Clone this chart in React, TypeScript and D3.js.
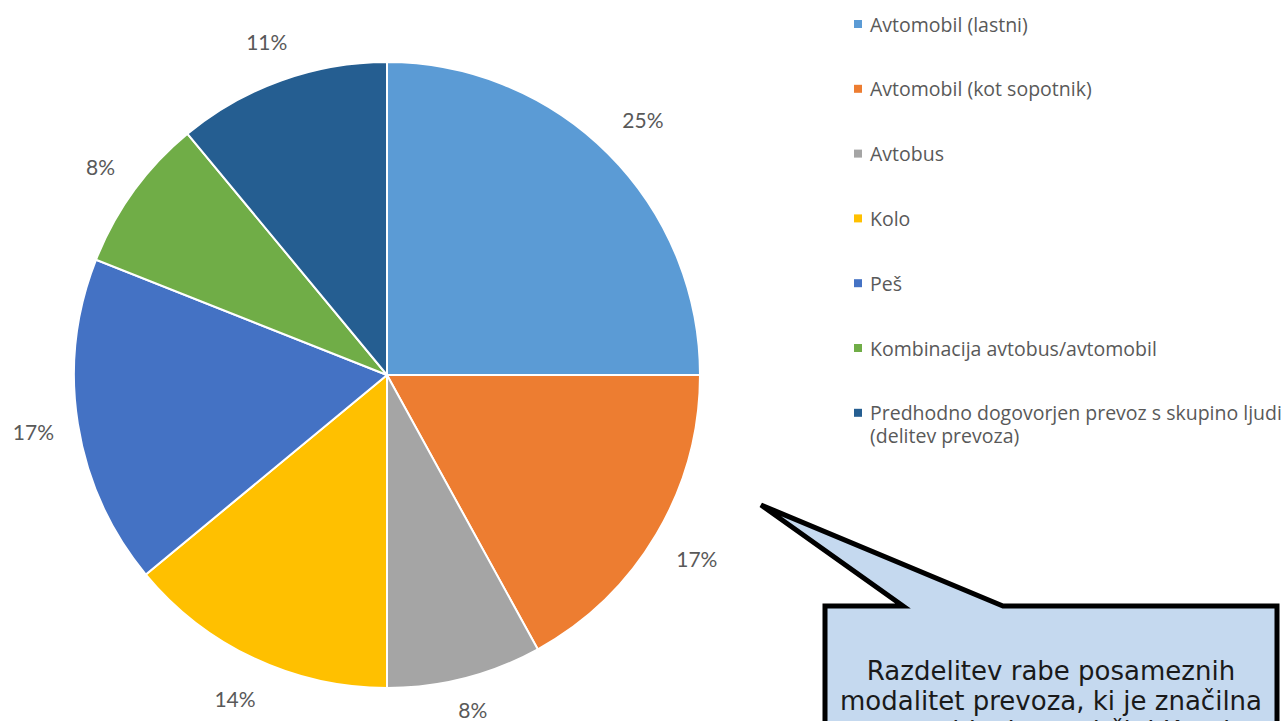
import React from "react";
import * as d3 from "d3";

const categories = [
  "Avtomobil (lastni)",
  "Avtomobil (kot sopotnik)",
  "Avtobus",
  "Kolo",
  "Peš",
  "Kombinacija avtobus/avtomobil",
  "Predhodno dogovorjen prevoz s skupino ljudi (delitev prevoza)",
];
const values = [25, 17, 8, 14, 17, 8, 11];
const colors = ["#5B9BD5", "#ED7D31", "#A5A5A5", "#FFC000", "#4472C4", "#70AD47", "#255E91"];
const legendLines = [
  ["Avtomobil (lastni)"],
  ["Avtomobil (kot sopotnik)"],
  ["Avtobus"],
  ["Kolo"],
  ["Peš"],
  ["Kombinacija avtobus/avtomobil"],
  ["Predhodno dogovorjen prevoz s skupino ljudi", "(delitev prevoza)"],
];
const labelRadii = [362, 360, 345, 357, 358, 354, 355];
const calloutLines = [
  "Razdelitev rabe posameznih",
  "modalitet prevoza, ki je značilna",
  "za prebivalce v občini Kranj",
];

const W = 1283;
const H = 721;
const cx = 387;
const cy = 375;
const R = 313;

export default function App() {
  const pie = d3.pie<number>().sort(null).value((d) => d);
  const arcs = pie(values);
  const arcGen = d3.arc<d3.PieArcDatum<number>>().innerRadius(0).outerRadius(R);
  const total = d3.sum(values);

  const legendX = 854;
  const legendY0 = 24;
  const legendStep = 64.8;

  const callout = d3.path();
  callout.moveTo(825, 606);
  callout.lineTo(903, 606);
  callout.lineTo(761, 505);
  callout.lineTo(1003, 606);
  callout.lineTo(1277, 606);
  callout.lineTo(1277, 740);
  callout.lineTo(825, 740);
  callout.closePath();

  return (
    <svg
      width={W}
      height={H}
      style={{ position: "absolute", left: 0, top: 0, background: "#fff" }}
    >
      <g transform={`translate(${cx},${cy})`}>
        {arcs.map((a, i) => (
          <path key={i} d={arcGen(a) || ""} fill={colors[i]} stroke="#fff" strokeWidth={2} />
        ))}
        {arcs.map((a, i) => {
          const mid = (a.startAngle + a.endAngle) / 2;
          const r = labelRadii[i];
          const x = Math.sin(mid) * r;
          const y = -Math.cos(mid) * r;
          return (
            <text
              key={i}
              x={x}
              y={y}
              textAnchor="middle"
              dominantBaseline="central"
              fontFamily="Lato, 'Open Sans', sans-serif"
              fontSize={21}
              fill="#595959"
            >
              {`${Math.round((values[i] / total) * 100)}%`}
            </text>
          );
        })}
      </g>
      <g>
        {categories.map((c, i) => (
          <g key={c} transform={`translate(${legendX},${legendY0 + i * legendStep})`}>
            <rect x={0} y={-4} width={8} height={8} fill={colors[i]} />
            {legendLines[i].map((ln, j) => (
              <text
                key={j}
                x={16}
                y={j * 23}
                dominantBaseline="central"
                fontFamily="'Open Sans', Lato, sans-serif"
                fontSize={19.5}
                fill="#595959"
              >
                {ln}
              </text>
            ))}
          </g>
        ))}
      </g>
      <path d={callout.toString()} fill="#C5D9EF" stroke="#000" strokeWidth={5} strokeLinejoin="miter" />
      {calloutLines.map((ln, i) => (
        <text
          key={i}
          x={1051}
          y={680 + i * 30}
          textAnchor="middle"
          fontFamily="'DejaVu Sans', sans-serif"
          fontSize={26}
          fill="#1a1a1a"
        >
          {ln}
        </text>
      ))}
    </svg>
  );
}
